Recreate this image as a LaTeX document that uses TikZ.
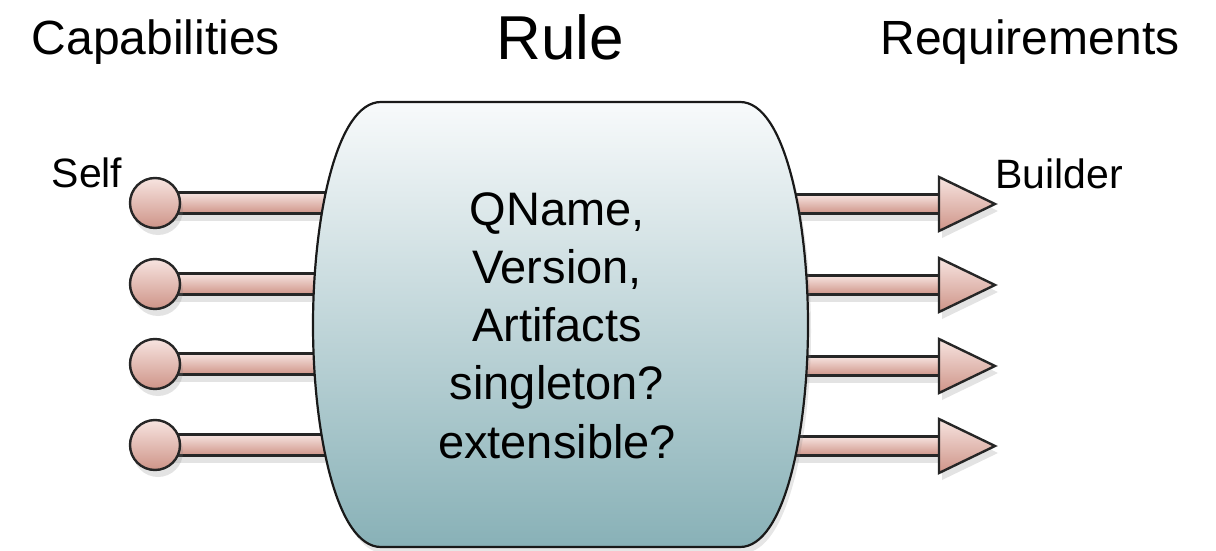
\documentclass[tikz,border=0pt]{standalone}
\usepackage{fontspec}
\setmainfont{Liberation Sans}
\usetikzlibrary{shadows}
\usetikzlibrary{shapes.geometric}

\definecolor{pinktop}{HTML}{F7E4E0}
\definecolor{pinkbot}{HTML}{CE9488}
\definecolor{ruletop}{HTML}{F8FAFB}
\definecolor{rulebot}{HTML}{88B1B7}

\tikzset{
  softshadow/.style={drop shadow={opacity=0.22,shadow xshift=1.5pt,shadow yshift=-3.5pt}},
  bar/.style={draw=black!85,line width=1.2pt,top color=pinktop,bottom color=pinkbot,softshadow},
  plug/.style={circle,draw=black!85,line width=1.2pt,minimum size=25pt,inner sep=0pt,
    top color=pinktop,bottom color=pinkbot,softshadow},
  socket/.style={isosceles triangle,isosceles triangle stretches,draw=black!85,line width=1.2pt,
    minimum height=28pt,minimum width=27pt,inner sep=0pt,outer sep=0pt,
    top color=pinktop,bottom color=pinkbot,softshadow},
  title/.style={anchor=base,inner sep=0pt,font=\fontsize{24}{29}\selectfont},
  label/.style={anchor=base,inner sep=0pt,font=\fontsize{20.5}{25}\selectfont},
  entry/.style={anchor=base,inner sep=0pt,font=\fontsize{23.5}{29}\selectfont}
}

\begin{document}
\begin{tikzpicture}[x=0.5pt,y=-0.5pt]
\useasboundingbox (0,0) rectangle (1216,551);

% capabilities on the left
\foreach \y [count=\i] in {203,284,364,445} {
  \draw[bar] (155,\y-10.5) rectangle (335,\y+10.5);
  \node[plug] (cap\i) at (155,\y) {};
}

% requirements on the right
\foreach \y [count=\i] in {204,285,366,446} {
  \draw[bar] (785,\y-9.5) rectangle (945,\y+9.5);
  \node[socket,anchor=lower side] (req\i) at (939,\y) {};
}

% the rule
\draw[draw=black!90,line width=1.1pt,top color=ruletop,bottom color=rulebot,
  drop shadow={opacity=0.2,shadow xshift=1.5pt,shadow yshift=-3pt}]
  (381,102) -- (740,102) .. controls (785,102) and (808,220) .. (808,325)
  .. controls (808,430) and (785,547) .. (740,547) -- (381,547)
  .. controls (336,547) and (313,430) .. (313,325)
  .. controls (313,220) and (336,102) .. cycle;
\coordinate (rule) at (560,325);

\foreach \t [count=\i] in {{QName,},{Version,},Artifacts,singleton?,extensible?}
  \node[entry] (line\i) at (557,225+58.3*\i-58.3) {\t};

% headings
\node[title] (capabilities) at (156,55) {Capabilities};
\node[title,font=\fontsize{31}{37}\selectfont] (ruletitle) at (560,60) {Rule};
\node[title] (requirements) at (1030,55) {Requirements};
\node[label] (self) at (87,188) {Self};
\node[label,anchor=base west] (builder) at (995,189) {Builder};
\end{tikzpicture}
\end{document}
